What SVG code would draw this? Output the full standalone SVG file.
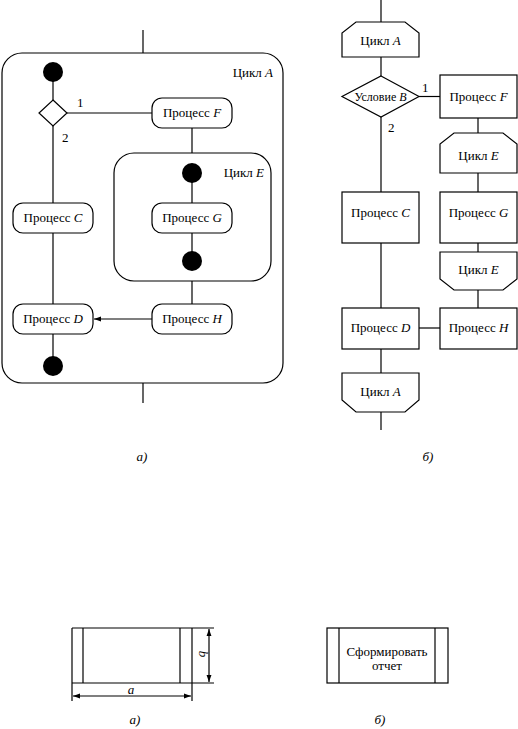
<svg xmlns="http://www.w3.org/2000/svg" width="518" height="729" viewBox="0 0 518 729" font-family="'Liberation Serif', 'DejaVu Serif', serif">
<style>
.s{fill:none;stroke:#000;stroke-width:1.2}
.b{fill:#fff;stroke:#000;stroke-width:1.2}
.dot{fill:#000}
text{font-family:'Liberation Serif','DejaVu Serif',serif;font-size:13px;fill:#000}
.c{text-anchor:middle}
.i{font-style:italic}
</style>
<defs>
<marker id="ar" viewBox="0 0 10 10" refX="10" refY="5" markerWidth="7" markerHeight="7" orient="auto-start-reverse" markerUnits="userSpaceOnUse">
<path d="M0,1.5 L10,5 L0,8.5 Z" fill="#000"/>
</marker>
</defs>
<rect width="518" height="729" fill="#fff"/>

<!-- Left diagram -->
<g id="connectors-left">
<line class="s" x1="143" y1="30" x2="143" y2="53"/>
<line class="s" x1="143" y1="383" x2="143" y2="403"/>
<line class="s" x1="53" y1="72" x2="53" y2="100"/>
<line class="s" x1="67" y1="113" x2="152" y2="113"/>
<line class="s" x1="53" y1="126" x2="53" y2="203"/>
<line class="s" x1="192" y1="128" x2="192" y2="153"/>
<line class="s" x1="192" y1="173" x2="192" y2="203"/>
<line class="s" x1="192" y1="233" x2="192" y2="261"/>
<line class="s" x1="192" y1="281" x2="192" y2="304"/>
<line class="s" x1="53" y1="233" x2="53" y2="304"/>
<line class="s" x1="152" y1="319" x2="94" y2="319" marker-end="url(#ar)"/>
<line class="s" x1="53" y1="334" x2="53" y2="366"/>
</g>
<g id="cycleA-left">
<rect class="s" x="2" y="53" width="281" height="330" rx="20"/>
<text x="273" y="77" text-anchor="end">Цикл <tspan class="i">A</tspan></text>
</g>
<g id="start-left"><circle class="dot" cx="53" cy="72" r="10"/></g>
<g id="decision-left">
<polygon class="b" points="53,100 67,113 53,126 39,113"/>
<text x="77" y="107">1</text>
<text x="62" y="142">2</text>
</g>
<g id="procF-left">
<rect class="b" x="152" y="98" width="80" height="30" rx="10"/>
<text class="c" x="192" y="117">Процесс <tspan class="i">F</tspan></text>
</g>
<g id="cycleE-left">
<rect class="s" x="114" y="153" width="157" height="128" rx="20"/>
<text x="264" y="177" text-anchor="end">Цикл <tspan class="i">E</tspan></text>
<circle class="dot" cx="192" cy="173" r="10"/>
<circle class="dot" cx="192" cy="261" r="10"/>
</g>
<g id="procG-left">
<rect class="b" x="152" y="203" width="80" height="30" rx="10"/>
<text class="c" x="192" y="222">Процесс <tspan class="i">G</tspan></text>
</g>
<g id="procC-left">
<rect class="b" x="13" y="203" width="80" height="30" rx="10"/>
<text class="c" x="53" y="222">Процесс <tspan class="i">C</tspan></text>
</g>
<g id="procH-left">
<rect class="b" x="152" y="304" width="80" height="30" rx="10"/>
<text class="c" x="192" y="323">Процесс <tspan class="i">H</tspan></text>
</g>
<g id="procD-left">
<rect class="b" x="13" y="304" width="80" height="30" rx="10"/>
<text class="c" x="53" y="323">Процесс <tspan class="i">D</tspan></text>
</g>
<g id="end-left"><circle class="dot" cx="53" cy="366" r="10"/></g>

<!-- Right diagram -->
<g id="connectors-right">
<line class="s" x1="381" y1="0" x2="381" y2="22"/>
<line class="s" x1="381" y1="57" x2="381" y2="76"/>
<line class="s" x1="419" y1="96.5" x2="440" y2="96.5"/>
<line class="s" x1="381" y1="117" x2="381" y2="192"/>
<line class="s" x1="478" y1="118" x2="478" y2="133"/>
<line class="s" x1="478" y1="173" x2="478" y2="192"/>
<line class="s" x1="478" y1="243" x2="478" y2="252"/>
<line class="s" x1="478" y1="290" x2="478" y2="308"/>
<line class="s" x1="381" y1="243" x2="381" y2="308"/>
<line class="s" x1="419" y1="328" x2="440" y2="328"/>
<line class="s" x1="381" y1="349" x2="381" y2="373"/>
<line class="s" x1="381" y1="412" x2="381" y2="430"/>
</g>
<g id="loopA-start">
<path class="b" d="M342,57 V33 L356,22 H405 L419,33 V57 Z"/>
<text class="c" x="380.5" y="45">Цикл <tspan class="i">A</tspan></text>
</g>
<g id="decision-right">
<polygon class="b" points="381,76 419,96.5 381,117 342,96.5"/>
<text class="c" x="380.5" y="101" style="font-size:12px">Условие <tspan class="i">B</tspan></text>
<text x="422" y="92">1</text>
<text x="388" y="132">2</text>
</g>
<g id="procF-right">
<rect class="b" x="440" y="75" width="77" height="43"/>
<text class="c" x="478.5" y="101">Процесс <tspan class="i">F</tspan></text>
</g>
<g id="loopE-start">
<path class="b" d="M440,173 V144 L454,133 H503 L517,144 V173 Z"/>
<text class="c" x="478.5" y="160">Цикл <tspan class="i">E</tspan></text>
</g>
<g id="procC-right">
<rect class="b" x="342" y="192" width="77" height="51"/>
<text class="c" x="380.5" y="217">Процесс <tspan class="i">C</tspan></text>
</g>
<g id="procG-right">
<rect class="b" x="440" y="192" width="77" height="51"/>
<text class="c" x="478.5" y="217">Процесс <tspan class="i">G</tspan></text>
</g>
<g id="loopE-end">
<path class="b" d="M440,252 H517 V279 L503,290 H454 L440,279 Z"/>
<text class="c" x="478.5" y="274">Цикл <tspan class="i">E</tspan></text>
</g>
<g id="procD-right">
<rect class="b" x="342" y="308" width="77" height="41"/>
<text class="c" x="380.5" y="332">Процесс <tspan class="i">D</tspan></text>
</g>
<g id="procH-right">
<rect class="b" x="440" y="308" width="77" height="41"/>
<text class="c" x="478.5" y="332">Процесс <tspan class="i">H</tspan></text>
</g>
<g id="loopA-end">
<path class="b" d="M342,373 H419 V400 L405,412 H356 L342,400 Z"/>
<text class="c" x="380.5" y="396">Цикл <tspan class="i">A</tspan></text>
</g>

<g id="captions-top">
<text class="c i" x="142" y="461">а)</text>
<text class="c i" x="428" y="461">б)</text>
</g>

<!-- Bottom left: dimensioned block -->
<g id="block-dims">
<line class="s" x1="72" y1="628" x2="214" y2="628"/>
<line class="s" x1="72" y1="683" x2="214" y2="683"/>
<line class="s" x1="72" y1="628" x2="72" y2="701"/>
<line class="s" x1="192" y1="628" x2="192" y2="701"/>
<line class="s" x1="83" y1="628" x2="83" y2="683"/>
<line class="s" x1="180" y1="628" x2="180" y2="683"/>
<line class="s" x1="73" y1="696" x2="191" y2="696" marker-start="url(#ar)" marker-end="url(#ar)"/>
<line class="s" x1="209" y1="629" x2="209" y2="682" marker-start="url(#ar)" marker-end="url(#ar)"/>
<text class="c i" x="131" y="694">a</text>
<text class="c i" transform="translate(199,654) rotate(90)">b</text>
</g>
<!-- Bottom right: example block -->
<g id="block-example">
<rect class="b" x="327" y="628" width="121" height="55"/>
<line class="s" x1="339" y1="628" x2="339" y2="683"/>
<line class="s" x1="435" y1="628" x2="435" y2="683"/>
<text class="c" x="387" y="656">Сформировать</text>
<text class="c" x="387" y="670">отчет</text>
</g>
<g id="captions-bottom">
<text class="c i" x="135" y="724">а)</text>
<text class="c i" x="380" y="724">б)</text>
</g>
</svg>
